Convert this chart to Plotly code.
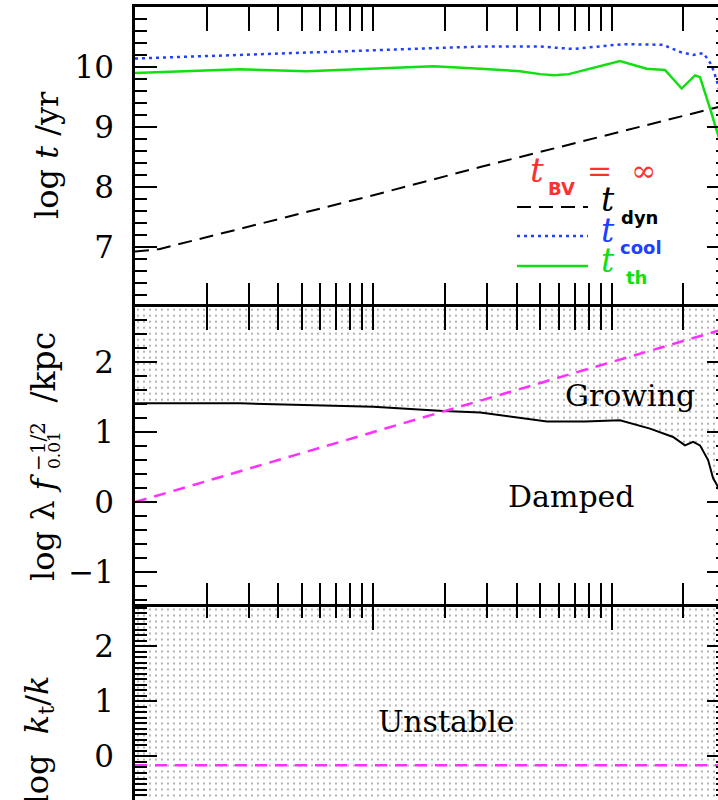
import plotly.graph_objects as go

# ---------------- radial profiles, r in kpc ----------------
# top panel: characteristic timescales, log10(t / yr)
r_dyn = [1, 1.26, 2.76, 10, 28.1, 50.1, 100, 259, 300]
log_t_dyn = [6.92, 6.96, 7.30, 7.86, 8.33, 8.58, 8.88, 9.29, 9.36]

r_cool = [1, 2.76, 10, 28.1, 50.1, 68.9, 111.7, 164.4, 194, 220, 243, 263, 276, 290]
log_t_cool = [10.14, 10.20, 10.27, 10.34, 10.34, 10.30, 10.38, 10.37, 10.25, 10.20,
              10.23, 10.03, 9.78, 9.45]

r_th = [1, 2.76, 5.25, 17.9, 28.1, 41.3, 50.1, 57.5, 66.1, 108.4, 140.3, 167.5,
        196.8, 223.9, 235.0, 250.6, 263.0, 271.6, 288.4]
log_t_th = [9.90, 9.96, 9.93, 10.01, 9.97, 9.93, 9.88, 9.86, 9.88, 10.10, 9.97, 9.95,
            9.64, 9.86, 9.83, 9.50, 9.22, 9.03, 8.70]

# middle panel: perturbation wavelength, log10(lambda f^-1/2 / kpc)
r_lam = [1, 300]
log_lam = [0.0, 2.477]

r_crit = [1, 2.76, 10, 19.7, 28.1, 53.6, 77.3, 108.4, 144.9, 181.1, 203.2, 219.8,
          235.0, 254.1, 266.7, 277.3, 295]
log_lam_crit = [1.41, 1.41, 1.36, 1.30, 1.28, 1.15, 1.15, 1.17, 1.05, 0.93, 0.81, 0.86,
                0.81, 0.60, 0.34, 0.24, 0.0]

# bottom panel: log10(k_t / k)
r_kt = [1, 300]
log_kt = [-0.16, -0.16]

# axis ranges
x_range_log = [0.0, 2.4465]
y1_range = [6.0, 11.0]
y2_range = [-1.49, 2.79]
y3_range = [-0.79, 2.72]

y1_ticks = [7, 8, 9, 10]
y2_ticks = [-1, 0, 1, 2]
y3_ticks = [-1, 0, 1, 2]
x_major = [1, 10, 100]
x_minor = [2, 3, 4, 5, 6, 7, 8, 9, 20, 30, 40, 50, 60, 70, 80, 90, 200, 300]

# ---------------- page geometry ----------------
W, H = 718, 800
L, T = 135, 7
PW, PH = W - L, H - T


def px(xp):
    return (xp - L) / PW


def py(yp):
    return (H - yp) / PH


d_top = [py(306.7), 1.0]
d_mid = [py(606.5), py(306.7)]
d_bot = [0.0, py(606.5)]

SERIF = "DejaVu Serif"
SANS = "DejaVu Sans"
RED, BLUE, GREEN, MAGENTA = "#ff3030", "#2040ff", "#10e010", "#ff30ff"

dots = dict(shape=".", size=6, solidity=0.07, fgcolor="#222222", bgcolor="white")

fig = go.Figure()

# top panel
fig.add_trace(go.Scatter(x=r_dyn, y=log_t_dyn, mode="lines", xaxis="x", yaxis="y",
                         line=dict(color="black", width=2, dash="14px,8px")))
fig.add_trace(go.Scatter(x=r_cool, y=log_t_cool, mode="lines", xaxis="x", yaxis="y",
                         line=dict(color=BLUE, width=2.5, dash="3px,4px")))
fig.add_trace(go.Scatter(x=r_th, y=log_t_th, mode="lines", xaxis="x", yaxis="y",
                         line=dict(color=GREEN, width=2.5)))

# middle panel: growing region above the critical wavelength
fig.add_trace(go.Scatter(x=r_crit, y=[y2_range[1]] * len(r_crit), mode="lines",
                         xaxis="x2", yaxis="y2", line=dict(width=0), hoverinfo="skip"))
fig.add_trace(go.Scatter(x=r_crit, y=log_lam_crit, mode="lines", xaxis="x2", yaxis="y2",
                         fill="tonexty", fillpattern=dots, fillcolor="white",
                         line=dict(color="black", width=2)))
fig.add_trace(go.Scatter(x=r_lam, y=log_lam, mode="lines", xaxis="x2", yaxis="y2",
                         line=dict(color=MAGENTA, width=2.5, dash="12px,8px")))

# bottom panel: unstable everywhere
fig.add_trace(go.Scatter(x=r_kt, y=[y3_range[1]] * 2, mode="lines", xaxis="x3",
                         yaxis="y3", line=dict(width=0), hoverinfo="skip"))
fig.add_trace(go.Scatter(x=r_kt, y=[y3_range[0]] * 2, mode="lines", xaxis="x3",
                         yaxis="y3", fill="tonexty", fillpattern=dots, fillcolor="white",
                         line=dict(width=0), hoverinfo="skip"))
fig.add_trace(go.Scatter(x=r_kt, y=log_kt, mode="lines", xaxis="x3", yaxis="y3",
                         line=dict(color=MAGENTA, width=2.5, dash="12px,8px")))

# right-hand tick stubs
for ax in ["y4", "y5", "y6"]:
    fig.add_trace(go.Scatter(x=[], y=[], xaxis={"y4": "x", "y5": "x2", "y6": "x3"}[ax],
                             yaxis=ax))


def xaxis(anchor, side="bottom", mirror="allticks"):
    return dict(type="log", range=x_range_log, domain=[0, 1], anchor=anchor, side=side,
                showline=True, linewidth=2.5, linecolor="black", mirror=mirror,
                ticks="inside", tickmode="array", tickvals=x_major, ticklen=24,
                tickwidth=2, tickcolor="black", showticklabels=False, showgrid=False,
                zeroline=False,
                minor=dict(tickmode="array", tickvals=x_minor, ticks="inside",
                           ticklen=12, tickwidth=2, tickcolor="black", showgrid=False))


def yaxis(anchor, domain, rng, ticks, minor_step):
    return dict(domain=domain, range=rng, anchor=anchor, showline=True, linewidth=2.5,
                linecolor="black", mirror=False, ticks="inside", tickmode="array",
                tickvals=ticks, ticklen=22, tickwidth=2, tickcolor="black",
                showgrid=False, zeroline=False, ticklabelstandoff=12,
                tickfont=dict(family=SERIF, size=31, color="black"),
                minor=dict(tick0=0, dtick=minor_step, ticks="inside", ticklen=12,
                           tickwidth=2, tickcolor="black", showgrid=False))


def ystub(anchor, over, rng, ticks, minor_step):
    return dict(overlaying=over, anchor=anchor, side="right", range=rng, showline=False,
                ticks="inside", tickmode="array", tickvals=ticks, ticklen=11,
                tickwidth=2, tickcolor="black", showticklabels=False, showgrid=False,
                zeroline=False,
                minor=dict(tick0=0, dtick=minor_step, ticks="inside", ticklen=2,
                           tickwidth=2, tickcolor="black", showgrid=False))


ann = []


def text(xp, yp, s, size, color="black", family=SERIF, angle=0, xa="center",
         ya="middle"):
    ann.append(dict(x=px(xp), y=py(yp), xref="paper", yref="paper", text=s,
                    showarrow=False, textangle=angle, xanchor=xa, yanchor=ya,
                    font=dict(family=family, size=size, color=color)))


# axis titles
text(47, 155, "log <i>t</i> /yr", 32, angle=-90)
text(43, 583, "log λ <i>f</i>", 32, angle=-90, ya="bottom")
text(38, 446, "−1/2", 20, angle=-90)
text(54, 450, "0.01", 17, angle=-90)
text(43, 330, "/kpc", 33, angle=-90, ya="top")
text(38, 673, "log  <i>k</i><sub>t</sub>/<i>k</i>", 32, angle=-90, ya="top")

# region labels
text(630, 396, "Growing", 30)
text(571, 496, "Damped", 30)
text(446, 721, "Unstable", 30)

# legend
text(537, 170, "<i>t</i>", 34, RED)
text(561, 188, "<b>BV</b>", 18, RED, SANS)
text(621, 171, "=  ∞", 30, RED)
for y_line, y_t, sub_x, sub_y, sub, col, dash, wd in [
    (207, 199, 639, 218, "dyn", "black", "14px,8px", 2),
    (236, 230, 641, 247, "cool", BLUE, "3px,4px", 2.5),
    (266, 260, 636, 277, "th", GREEN, "solid", 2.5),
]:
    fig.add_shape(type="line", xref="paper", yref="paper", x0=px(517), x1=px(588),
                  y0=py(y_line), y1=py(y_line), line=dict(color=col, width=wd, dash=dash))
    text(608, y_t, "<i>t</i>", 33, col)
    text(sub_x, sub_y, "<b>" + sub + "</b>", 18, col, SANS)

fig.update_layout(
    width=W, height=H, margin=dict(l=L, r=0, t=T, b=0, pad=0),
    paper_bgcolor="white", plot_bgcolor="white", showlegend=False,
    xaxis=xaxis("y"), xaxis2=xaxis("y2"), xaxis3=xaxis("y3", side="top", mirror=False),
    yaxis=yaxis("x", d_top, y1_range, y1_ticks, 0.2),
    yaxis2=yaxis("x2", d_mid, y2_range, y2_ticks, 0.2),
    yaxis3=yaxis("x3", d_bot, y3_range, y3_ticks, 0.1),
    yaxis4=ystub("x", "y", y1_range, y1_ticks, 0.2),
    yaxis5=ystub("x2", "y2", y2_range, y2_ticks, 0.2),
    yaxis6=ystub("x3", "y3", y3_range, y3_ticks, 0.1),
    annotations=ann,
)

fig.write_html("out.html")
